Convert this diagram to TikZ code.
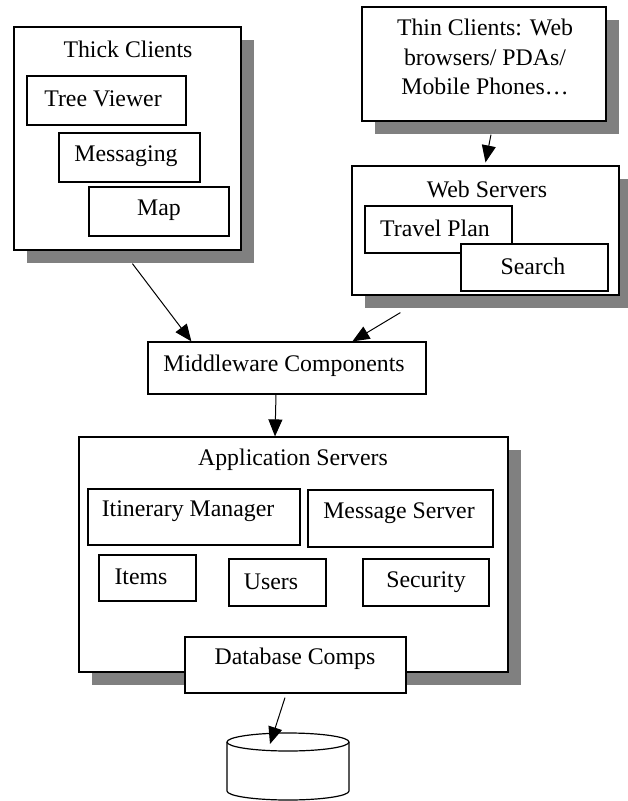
\documentclass[tikz,border=0pt]{standalone}
\usepackage{fontspec}
\setmainfont{Liberation Serif}
\usetikzlibrary{arrows.meta,shadows}
\definecolor{shgray}{HTML}{808080}
\tikzset{
  box/.style={draw, fill=white, line width=1.2pt, inner sep=0pt},
  shad/.style={drop shadow={shadow xshift=12.5pt, shadow yshift=-12.5pt, opacity=1, fill=shgray}},
  txt/.style={inner sep=0pt, font=\fontsize{23.8}{29.5}\selectfont, align=center},
  arr/.style={line width=1pt, -{Triangle[length=17pt, width=14pt]}}
}
\begin{document}
\begin{tikzpicture}[x=1pt, y=-1pt]
\useasboundingbox (0,0) rectangle (627,801);

% thick clients and their components
\node[box, shad, minimum width=227pt, minimum height=223pt] (tc) at (127.5,138.5) {};
\node[txt] (tct) at (128,49) {Thick Clients};
\node[box, minimum width=159pt, minimum height=49pt] (tv) at (106.5,100.5) {};
\node[txt] (tvt) at (103,99) {Tree Viewer};
\node[box, minimum width=141pt, minimum height=49pt] (ms) at (129.5,157.5) {};
\node[txt] (mst) at (126,156) {Messaging};
\node[box, minimum width=140pt, minimum height=49pt] (mp) at (159,211.5) {};
\node[txt] (mpt) at (159,210) {Map};

% thin clients
\node[box, shad, minimum width=244pt, minimum height=114pt] (thc) at (484,64) {};
\node[txt] (thct) at (485,57) {Thin Clients: Web\\browsers/ PDAs/\\Mobile Phones…};

% web servers
\node[box, shad, minimum width=267pt, minimum height=129pt] (ws) at (485.5,230.5) {};
\node[txt] (wst) at (487,189) {Web Servers};
\node[box, minimum width=147pt, minimum height=47pt] (tp) at (438.5,229.5) {};
\node[txt] (tpt) at (435,228) {Travel Plan};
\node[box, minimum width=147pt, minimum height=47pt] (sr) at (534.5,267.5) {};
\node[txt] (srt) at (533,266) {Search};

% middleware
\node[box, minimum width=278pt, minimum height=52pt] (mw) at (287,368) {};
\node[txt] (mwt) at (284,366) {Middleware Components};

% application servers
\node[box, shad, minimum width=429pt, minimum height=235pt] (as) at (293.5,554.5) {};
\node[txt] (ast) at (293,460) {Application Servers};
\node[box, minimum width=212pt, minimum height=56pt] (im) at (194,517) {};
\node[txt] (imt) at (188,511) {Itinerary Manager};
\node[box, minimum width=185pt, minimum height=57pt] (msv) at (400.5,518.5) {};
\node[txt] (msvt) at (399,513) {Message Server};
\node[box, minimum width=97pt, minimum height=46pt] (it) at (147.5,578) {};
\node[txt] (itt) at (141,577) {Items};
\node[box, minimum width=97pt, minimum height=47pt] (us) at (277.5,582.5) {};
\node[txt] (ust) at (271,582) {Users};
\node[box, minimum width=126pt, minimum height=47pt] (sc) at (426,582.5) {};
\node[txt] (sct) at (426,582) {Security};
\node[box, minimum width=221pt, minimum height=56pt] (db) at (295.5,665) {};
\node[txt] (dbt) at (295,659) {Database Comps};

% data store
\coordinate (store) at (288,742);
\draw[line width=1.2pt, fill=white]
  ([xshift=-61pt]store) -- ++(0,49) arc[start angle=180, end angle=360, x radius=61pt, y radius=9pt]
  -- ([xshift=61pt]store);
\draw[line width=1.2pt] (store) ellipse [x radius=61pt, y radius=9pt];
\coordinate (storetip) at (270,744);

% connectors
\draw[arr] ([shift={(119pt,-13pt)}]tc.south west) -- ([xshift=44pt]mw.north west);
\draw[arr] ([shift={(49pt,-17pt)}]ws.south west) -- ([xshift=205pt]mw.north west);
\draw[arr] ([shift={(7pt,-13pt)}]thc.south) -- ([yshift=3pt]ws.north);
\draw[arr] ([xshift=-11pt]mw.south) -- ([xshift=-18.5pt]as.north);
\draw[arr] ([shift={(-10.5pt,-4pt)}]db.south) -- (storetip);
\end{tikzpicture}
\end{document}
